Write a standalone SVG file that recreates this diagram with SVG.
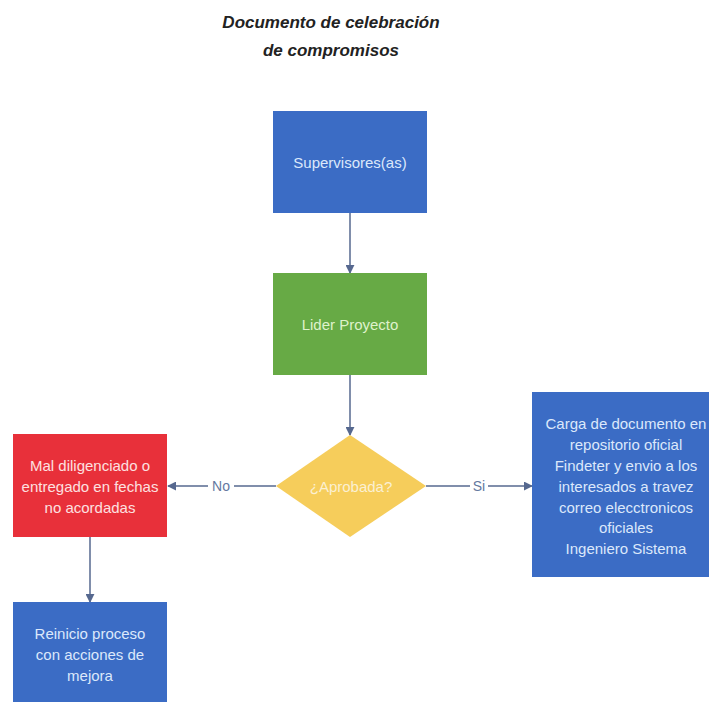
<svg xmlns="http://www.w3.org/2000/svg" width="709" height="702" viewBox="0 0 709 702">
  <defs>
    <marker id="arrow" viewBox="0 0 10 10" refX="9" refY="5" markerWidth="9" markerHeight="9" markerUnits="userSpaceOnUse" orient="auto">
      <path d="M0,0 L10,5 L0,10 z" fill="#56688f"/>
    </marker>
    <style>
      .title { font-family: "Liberation Sans", Arial, sans-serif; font-size: 17px; font-weight: bold; font-style: italic; fill: #222222; text-anchor: middle; }
      .lbl { font-family: "Liberation Sans", Arial, sans-serif; font-size: 15px; text-anchor: middle; dominant-baseline: central; }
      .onblue { fill: #dce8fb; }
      .ongreen { fill: #dff2cc; }
      .onred { fill: #fde0e0; }
      .onyellow { fill: #fbf0d2; }
      .edge-lbl { font-family: "Liberation Sans", Arial, sans-serif; font-size: 14px; fill: #6478a0; text-anchor: middle; dominant-baseline: central; }
      .conn { stroke: #56688f; stroke-width: 1.5; fill: none; marker-end: url(#arrow); }
      .blue { fill: #3b6cc5; }
      .green { fill: #67aa45; }
      .red { fill: #e8303a; }
      .yellow { fill: #f6cd5b; }
    </style>
  </defs>

  <rect width="709" height="702" fill="#ffffff"/>

  <!-- Heading -->
  <g id="title">
    <text class="title" x="331" y="28">Documento de celebración</text>
    <text class="title" x="331" y="56">de compromisos</text>
  </g>

  <!-- Connectors -->
  <g id="connectors">
    <line class="conn" x1="350" y1="213" x2="350" y2="273"/>
    <line class="conn" x1="350" y1="375" x2="350" y2="435"/>
    <line class="conn" x1="276" y1="486" x2="168" y2="486"/>
    <line class="conn" x1="426" y1="486" x2="532" y2="486"/>
    <line class="conn" x1="90" y1="537" x2="90" y2="602"/>
    <rect x="208" y="477" width="26" height="18" fill="#ffffff"/>
    <text class="edge-lbl" x="221" y="486">No</text>
    <rect x="470" y="477" width="18" height="18" fill="#ffffff"/>
    <text class="edge-lbl" x="479" y="486">Si</text>
  </g>

  <g id="supervisores">
    <rect class="blue" x="273" y="111" width="154" height="102"/>
    <text class="lbl onblue" x="350" y="162">Supervisores(as)</text>
  </g>

  <g id="lider">
    <rect class="green" x="273" y="273" width="154" height="102"/>
    <text class="lbl ongreen" x="350" y="324">Lider Proyecto</text>
  </g>

  <g id="aprobada">
    <polygon class="yellow" points="350,435 426,486 350,537 276,486"/>
    <text class="lbl onyellow" x="351" y="486">¿Aprobada?</text>
  </g>

  <g id="mal-diligenciado">
    <rect class="red" x="13" y="434" width="154" height="103"/>
    <text class="lbl onred" x="90" y="465">Mal diligenciado o</text>
    <text class="lbl onred" x="90" y="486">entregado en fechas</text>
    <text class="lbl onred" x="90" y="507">no acordadas</text>
  </g>

  <g id="reinicio">
    <rect class="blue" x="13" y="602" width="154" height="110"/>
    <text class="lbl onblue" x="90" y="633">Reinicio proceso</text>
    <text class="lbl onblue" x="90" y="654">con acciones de</text>
    <text class="lbl onblue" x="90" y="675">mejora</text>
  </g>

  <g id="carga-documento">
    <rect class="blue" x="532" y="392" width="190" height="185"/>
    <text class="lbl onblue" x="626" y="423">Carga de documento en</text>
    <text class="lbl onblue" x="626" y="444">repositorio oficial</text>
    <text class="lbl onblue" x="626" y="465">Findeter y envio a los</text>
    <text class="lbl onblue" x="626" y="486">interesados a travez</text>
    <text class="lbl onblue" x="626" y="507">correo elecctronicos</text>
    <text class="lbl onblue" x="626" y="527">oficiales</text>
    <text class="lbl onblue" x="626" y="548">Ingeniero Sistema</text>
  </g>
</svg>
